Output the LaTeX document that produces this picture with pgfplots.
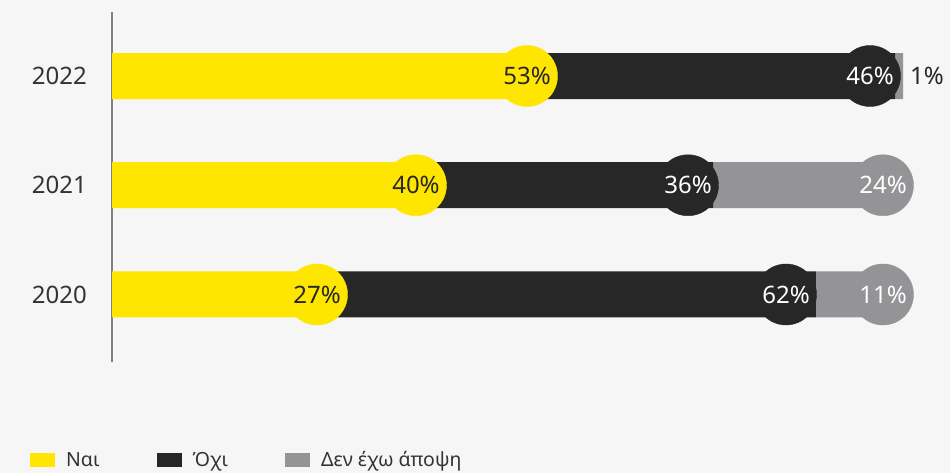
\documentclass[border=0pt]{standalone}
\usepackage{fontspec}
\setmainfont{Noto Sans}
\usepackage{pgfplots}
\pgfplotsset{compat=1.18}
\definecolor{eyy}{HTML}{FFE600}
\definecolor{eyd}{HTML}{272727}
\definecolor{eyg}{HTML}{949497}
\definecolor{bgc}{HTML}{F6F6F6}
\definecolor{axc}{HTML}{808080}
\definecolor{txt}{HTML}{333333}
\begin{document}
\begin{tikzpicture}
\fill[bgc, use as bounding box] (0,0) rectangle (950pt,473pt);
\pgfplotsset{
  common/.style={
    at={(112pt,111pt)}, anchor=south west,
    scale only axis, width=791pt, height=350pt,
    xmin=0, xmax=100, ymin=-0.618, ymax=2.586,
    clip=false,
  }
}
\begin{axis}[
  common,
  xbar stacked, bar width=46pt,
  axis x line=none, axis y line*=left,
  y axis line style={draw=axc, line width=2pt},
  ytick={0,1,2}, yticklabels={2020,2021,2022},
  major tick length=0pt,
  yticklabel style={font=\fontsize{24}{28}\selectfont, text=txt, inner sep=0pt, xshift=-25pt},
  /pgf/number format/assume math mode=true,
  legend columns=-1,
  legend image code/.code={\fill[#1] (0pt,-7pt) rectangle (25pt,7pt);},
  legend style={at={(axis description cs:-0.1037,-0.28)}, anchor=west,
    draw=none, fill=none, inner sep=0pt,
    font=\fontsize{19.5}{23}\selectfont, text=txt,
    cells={anchor=west},
    /tikz/every odd column/.append style={column sep=9pt},
    /tikz/every even column/.append style={column sep=55pt}},
]
\addplot[fill=eyy, draw=none] coordinates {(27,0) (40,1) (53,2)};
\addplot[fill=eyd, draw=none] coordinates {(62,0) (36,1) (46,2)};
\addplot[fill=eyg, draw=none] coordinates {(11,0) (24,1) (1,2)};
\legend{Ναι, Όχι, Δεν έχω άποψη}
\end{axis}
\begin{axis}[
  common, hide axis,
  point meta=explicit symbolic,
  nodes near coords={\pgfplotspointmeta\%},
  every node near coord/.append style={anchor=center, inner sep=0pt, font=\fontsize{24}{28}\selectfont},
]
\addplot[only marks, mark=*, mark size=30.5pt, color=eyy, mark options={draw=none, fill=eyy},
  every node near coord/.append style={text=eyd}]
  coordinates {(52.47,2) [53] (38.43,1) [40] (25.92,0) [27]};
\addplot[only marks, mark=*, mark size=30.5pt, color=eyd, mark options={draw=none, fill=eyd},
  every node near coord/.append style={text=white}]
  coordinates {(95.83,2) [46] (72.82,1) [36] (85.21,0) [62]};
\addplot[only marks, mark=*, mark size=30.5pt, color=eyg, mark options={draw=none, fill=eyg},
  every node near coord/.append style={text=white}]
  coordinates {(97.47,1) [24] (97.47,0) [11]};
\addplot[only marks, mark=none,
  every node near coord/.append style={anchor=west, xshift=7pt, text=eyd}]
  coordinates {(100,2) [1]};
\end{axis}
\end{tikzpicture}
\end{document}
